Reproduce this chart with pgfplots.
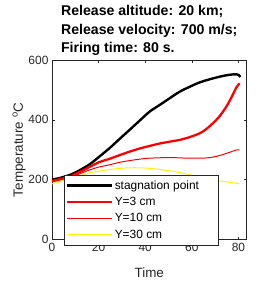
\documentclass[border=0pt]{standalone}
\usepackage{fontspec}
\setmainfont{Liberation Sans}
\usepackage{pgfplots}
\pgfplotsset{compat=1.18}
\definecolor{axgray}{RGB}{38,38,38}
\begin{document}
\begin{tikzpicture}
\begin{axis}[
  scale only axis, width=195bp, height=180bp,
  xmin=0, xmax=83.5, ymin=0, ymax=600,
  xtick={0,20,...,80}, ytick={0,200,...,600},
  tick align=inside, tick pos=both,
  major tick length=3bp,
  axis line style={axgray, line width=0.5pt},
  every tick/.style={axgray, line width=0.5pt},
  tick label style={font=\fontsize{12}{14}\selectfont, text=axgray},
  /pgf/number format/assume math mode=true,
  xlabel={Time}, ylabel={Temperature \textsuperscript{o}C},
  label style={font=\fontsize{13.5}{15}\selectfont, text=axgray},
  xlabel style={at={(axis description cs:0.5,-0.211)}, anchor=base},
  ylabel style={at={(axis description cs:-0.149,0.5)}, anchor=base},
  title style={font=\fontsize{14.2}{18.5}\selectfont\bfseries, align=left, at={(axis description cs:0.5,1)}, anchor=south, inner sep=0pt, yshift=-2bp},
  title={Release altitude: 20 km;\\Release velocity: 700 m/s;\\Firing time: 80 s.},
  legend style={at={(rel axis cs:0.062,0.361)}, anchor=north west, font=\fontsize{12}{14}\selectfont, draw=axgray, line width=0.5pt, inner xsep=2pt, inner ysep=3.5pt, row sep=2.5pt, fill=white},
  legend cell align=left,
  legend image post style={xscale=2.6},
]
\addplot[black, line width=2.4pt, smooth] coordinates {(0,200) (4,207) (8,217) (12,232) (16.3,252) (20,275) (24.8,306) (29,336) (33.4,367) (38,400) (42,428) (46.3,450) (50.5,472) (54.8,494) (59,510) (63.4,525) (68,536) (72,544) (75,549) (78.4,552) (80,550) (80.8,543)};
\addplot[red, line width=2.3pt, smooth] coordinates {(0,196) (4,203) (8,212) (12,226) (16.3,243) (20,258) (24.8,270) (29,282) (33.4,294) (38,305) (42,313) (46.3,321) (50.5,327) (54.8,333) (59,342) (63.4,355) (66,368) (69.1,389) (72,413) (74.8,444) (77,475) (79.1,508) (80.5,522)};
\addplot[red, line width=1pt, smooth] coordinates {(0,193) (4,200) (8,209) (12,220) (16.3,233) (20,242) (24.8,250) (29,258) (33.4,264) (38,269) (42,272) (50.5,274) (58,272) (64,272) (68,274) (72,281) (76,291) (79,299) (80.5,300)};
\addplot[yellow, line width=1pt, smooth] coordinates {(0,186) (4,195) (8,204) (12,213) (18,226) (28,237) (35,240) (42,238) (52,228) (60,215) (66,206) (72,196) (78,190) (80.5,186)};
\legend{\makebox[100bp][l]{stagnation point}, Y=3 cm, Y=10 cm, Y=30 cm}
\end{axis}
\path ([shift={(-52bp,-41bp)}]current axis.south west) rectangle ([shift={(26bp,60bp)}]current axis.north east);
\end{tikzpicture}
\end{document}
